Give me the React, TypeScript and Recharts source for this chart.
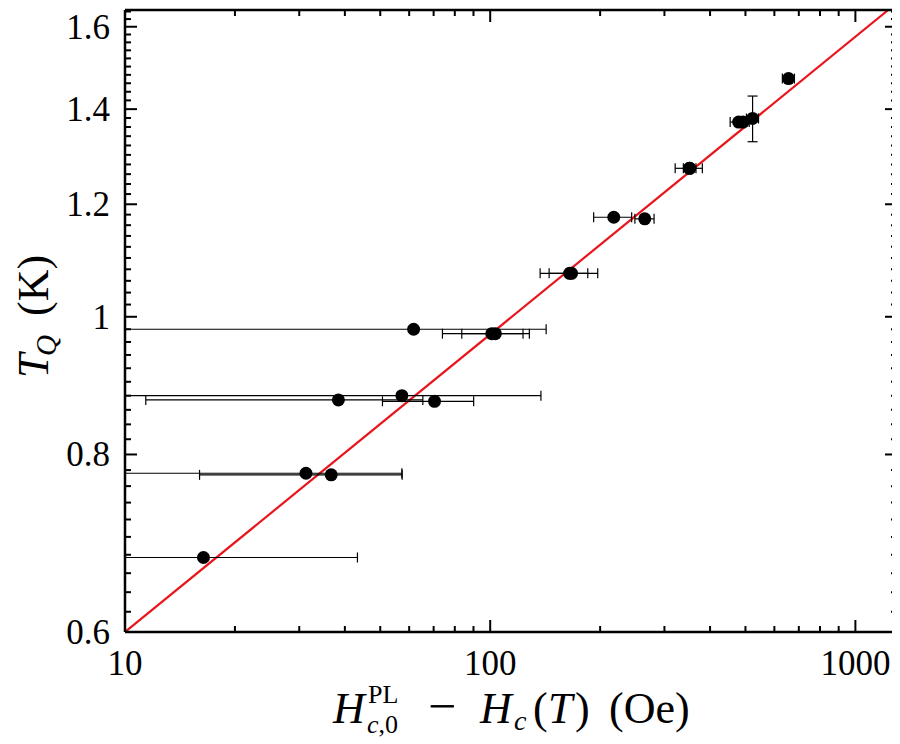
import React from "react";
import { ComposedChart, Scatter, Line, XAxis, YAxis, ErrorBar } from "recharts";

// H_c0^PL - H_c(T) in Oe
const fieldOe = [16.4, 31.3, 36.7, 38.4, 57.3, 61.7, 70.4, 101, 103.3, 167, 165, 218, 265, 351, 352, 479, 492, 523, 656];
// T_Q in K
const tempK = [0.677, 0.776, 0.774, 0.874, 0.88, 0.98, 0.872, 0.973, 0.973, 1.073, 1.073, 1.175, 1.172, 1.272, 1.272, 1.371, 1.371, 1.379, 1.471];
// symmetric x error (Oe)
const fieldErr = [26.9, 26, 20.7, 27, 80.4, 80.6, 19.7, 27, 19.7, 30, 20, 26, 16, 30, 14, 25, 20, 20, 25];
// y error (K)
const tempErr = [0, 0, 0, 0, 0, 0, 0, 0, 0, 0, 0, 0, 0, 0, 0, 0, 0, 0.051, 0];

// red fit line end points
const fitField = [10, 1230];
const fitTemp = [0.6, 1.644];

const xMajor = [10, 100, 1000];
const xMinor = [20, 30, 40, 50, 60, 70, 80, 90, 200, 300, 400, 500, 600, 700, 800, 900];
const yMajor = [0.6, 0.8, 1, 1.2, 1.4, 1.6];
const yMinor = [
  0.62, 0.64, 0.66, 0.68, 0.7, 0.72, 0.74, 0.76, 0.78,
  0.82, 0.84, 0.86, 0.88, 0.9, 0.92, 0.94, 0.96, 0.98,
  1.02, 1.04, 1.06, 1.08, 1.1, 1.12, 1.14, 1.16, 1.18,
  1.22, 1.24, 1.26, 1.28, 1.3, 1.32, 1.34, 1.36, 1.38,
  1.42, 1.44, 1.46, 1.48, 1.5, 1.52, 1.54, 1.56, 1.58,
  1.62, 1.64,
];

const X_MIN = 10;
const X_MAX = 1300;
const Y_MIN = 0.6;
const Y_MAX = 1.644;

const xTicks = [...xMajor, ...xMinor].sort((a, b) => a - b);
const yTicks = [...yMajor, ...yMinor].sort((a, b) => a - b);

const points = fieldOe.map((h, i) => ({
  h,
  t: tempK[i],
  // the lower arm runs off the left edge for the small fields: stop it at the axis
  hErr: [Math.min(fieldErr[i], h - X_MIN), fieldErr[i]],
  tErr: tempErr[i],
}));

const fitLine = fitField.map((h, i) => ({ h, t: fitTemp[i] }));

const SERIF = "'Liberation Serif', 'Times New Roman', serif";
const MAJOR = 12;
const MINOR = 6;

function BottomTick(props: any) {
  const { x, y, payload } = props;
  const major = xMajor.includes(payload.value);
  return (
    <g>
      <line x1={x} x2={x} y1={y} y2={y - (major ? MAJOR : MINOR)} stroke="#000" strokeWidth={2} />
      {major && (
        <text x={x} y={y + 43} textAnchor="middle" fontFamily={SERIF} fontSize={35} fill="#000">
          {payload.value}
        </text>
      )}
    </g>
  );
}

function TopTick(props: any) {
  const { x, y, payload } = props;
  const major = xMajor.includes(payload.value);
  return <line x1={x} x2={x} y1={y} y2={y + (major ? MAJOR : MINOR)} stroke="#000" strokeWidth={2} />;
}

function LeftTick(props: any) {
  const { x, y, payload } = props;
  const major = yMajor.includes(payload.value);
  return (
    <g>
      <line x1={x} x2={x + (major ? MAJOR : MINOR)} y1={y} y2={y} stroke="#000" strokeWidth={2} />
      {major && (
        <text x={x - 15} y={y + 12} textAnchor="end" fontFamily={SERIF} fontSize={35} fill="#000">
          {String(payload.value)}
        </text>
      )}
    </g>
  );
}

function RightTick(props: any) {
  const { x, y, payload } = props;
  const major = yMajor.includes(payload.value);
  return <line x1={x} x2={x - (major ? MAJOR : MINOR)} y1={y} y2={y} stroke="#000" strokeWidth={2} />;
}

function XTitle() {
  return (
    <text fontFamily={SERIF} fontSize={44} fill="#000">
      <tspan x={325} y={715} fontStyle="italic">H</tspan>
      <tspan x={360} y={695} fontSize={26}>PL</tspan>
      <tspan x={359} y={725} fontSize={26} fontStyle="italic">c</tspan>
      <tspan fontSize={26}>,0</tspan>
      <tspan x={420} y={715} fontSize={50}>−</tspan>
      <tspan x={472} y={715} fontStyle="italic">H</tspan>
      <tspan x={506} y={722} fontSize={28} fontStyle="italic">c</tspan>
      <tspan x={525} y={715}>(</tspan>
      <tspan x={540} y={715} fontStyle="italic">T</tspan>
      <tspan x={567} y={715}>)</tspan>
      <tspan x={601} y={715}>(Oe)</tspan>
    </text>
  );
}

function YTitle() {
  return (
    <text transform="translate(40, 370) rotate(-90)" fontFamily={SERIF} fontSize={44} fill="#000">
      <tspan x={0} y={0} fontStyle="italic">T</tspan>
      <tspan x={22} y={8} fontSize={29} fontStyle="italic">Q</tspan>
      <tspan x={62} y={0}>(K)</tspan>
    </text>
  );
}

const Dot = (p: any) => <circle cx={p.cx} cy={p.cy} r={6.5} fill="#000" />;

export default function App() {
  const axisLine = { stroke: "#000", strokeWidth: 2.5 };
  return (
    <div style={{ width: 892, height: 736 }}>
      <ComposedChart width={892} height={736} margin={{ top: 1, right: 2, bottom: 0, left: 0 }}>
        <XAxis
          dataKey="h"
          type="number"
          scale="log"
          domain={[X_MIN, X_MAX]}
          allowDataOverflow
          ticks={xTicks}
          interval={0}
          tickSize={0}
          tickMargin={0}
          tickLine={false}
          axisLine={axisLine}
          tick={<BottomTick />}
          height={112}
          label={<XTitle />}
        />
        <XAxis
          xAxisId="top"
          dataKey="h"
          orientation="top"
          type="number"
          scale="log"
          domain={[X_MIN, X_MAX]}
          allowDataOverflow
          ticks={xTicks}
          interval={0}
          tickSize={0}
          tickMargin={0}
          tickLine={false}
          axisLine={axisLine}
          tick={<TopTick />}
          height={1}
        />
        <YAxis
          dataKey="t"
          type="number"
          scale="log"
          domain={[Y_MIN, Y_MAX]}
          allowDataOverflow
          ticks={yTicks}
          interval={0}
          tickSize={0}
          tickMargin={0}
          tickLine={false}
          axisLine={axisLine}
          tick={<LeftTick />}
          width={117}
          label={<YTitle />}
        />
        <YAxis
          yAxisId="right"
          orientation="right"
          type="number"
          scale="log"
          domain={[Y_MIN, Y_MAX]}
          allowDataOverflow
          ticks={yTicks}
          interval={0}
          tickSize={0}
          tickMargin={0}
          tickLine={false}
          axisLine={axisLine}
          tick={<RightTick />}
          width={1}
        />
        <Line
          data={fitLine}
          dataKey="t"
          type="linear"
          stroke="#e8161c"
          strokeWidth={2.2}
          dot={false}
          activeDot={false}
          isAnimationActive={false}
        />
        <Scatter data={points} dataKey="t" shape={Dot} isAnimationActive={false}>
          <ErrorBar dataKey="hErr" direction="x" width={5} stroke="#000" strokeWidth={1.2} isAnimationActive={false} />
          <ErrorBar dataKey="tErr" direction="y" width={5} stroke="#000" strokeWidth={1.2} isAnimationActive={false} />
        </Scatter>
      </ComposedChart>
    </div>
  );
}
